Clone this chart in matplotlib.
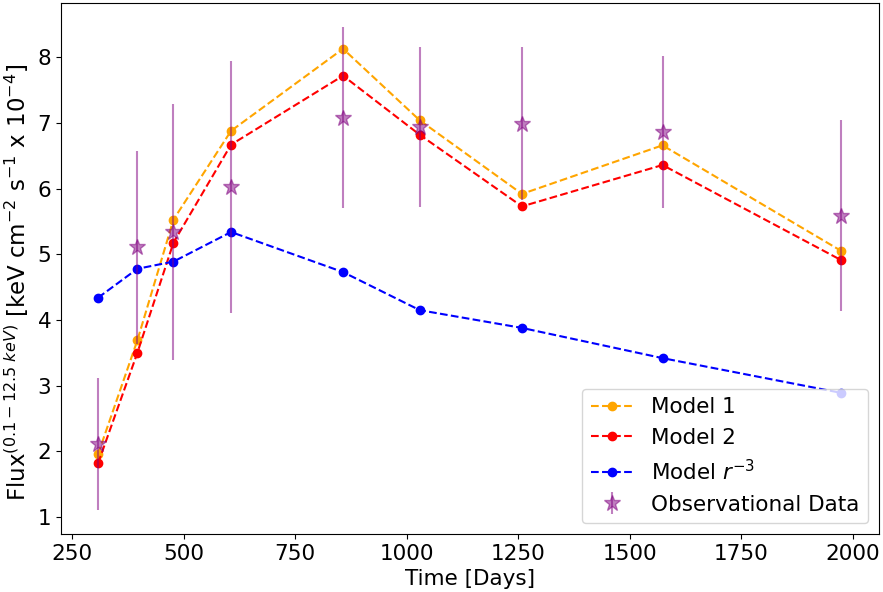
import numpy as np
import matplotlib
matplotlib.use("Agg")
import matplotlib.pyplot as plt

# =========================
# Dados
# =========================
tempo = [308, 396, 477, 606, 857, 1029, 1258, 1573, 1974]

modelo_1 = [1.96, 3.69, 5.53, 6.88, 8.13, 7.04, 5.92, 6.66, 5.05]
modelo_2 = [1.82, 3.50, 5.18, 6.67, 7.72, 6.82, 5.73, 6.36, 4.91]
modelo_r3 = [4.34, 4.78, 4.89, 5.34, 4.73, 4.15, 3.88, 3.42, 2.89]

obs = [2.11, 5.11, 5.34, 6.02, 7.08, 6.94, 6.99, 6.86, 5.59]
obs_err = [1.00, 1.47, 1.95, 1.92, 1.38, 1.22, 1.17, 1.16, 1.46]

# =========================
# Plot
# =========================
fig, ax = plt.subplots(figsize=(8.83, 5.92), dpi=100)

ax.plot(tempo, modelo_1, "o--", color="orange", label="Model 1")
ax.plot(tempo, modelo_2, "o--", color="red", label="Model 2")
ax.plot(tempo, modelo_r3, "o--", color="blue", label=r"Model $r^{-3}$")
ax.errorbar(tempo, obs, yerr=obs_err, fmt="*", color="purple", alpha=0.5,
            markersize=12, label="Observational Data")

ax.set_xlabel("Time [Days]", fontsize=15.5)
ax.set_ylabel(r"Flux$^{(0.1-12.5\ keV)}$ [keV cm$^{-2}$ s$^{-1}$ x 10$^{-4}$]",
              fontsize=16.5)
ax.yaxis.set_label_coords(-0.036, 0.473)
ax.tick_params(labelsize=15.5)
ax.legend(loc="lower right", fontsize=15.5)

fig.subplots_adjust(left=0.069, right=0.995, top=0.995, bottom=0.098)
fig.savefig("out.png")
